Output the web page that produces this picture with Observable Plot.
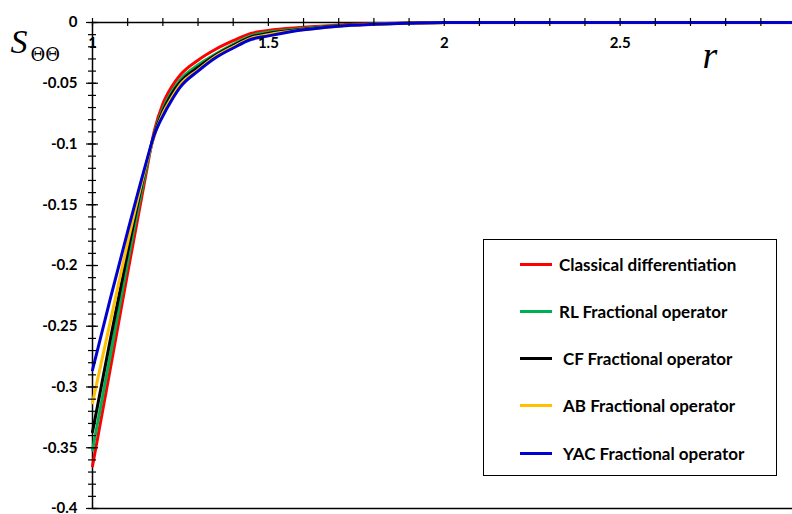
<!DOCTYPE html>
<html>
<head>
<meta charset="utf-8">
<script src="https://cdn.jsdelivr.net/npm/d3@7"></script>
<script src="https://cdn.jsdelivr.net/npm/@observablehq/plot@0.6"></script>
<style>
  html, body { margin: 0; padding: 0; background: #fff; }
  #wrap { position: relative; width: 792px; height: 514px; }
  #legend { position: absolute; left: 483px; top: 239px; width: 292px; height: 235px;
    border: 1.5px solid #000; background: #fff; font-family: Lato, "Open Sans", sans-serif;
    font-weight: bold; font-size: 17px; color: #000; }
  .item { position: absolute; left: 36px; height: 20px; display: flex; align-items: center; white-space: nowrap; }
  .sw { width: 32px; height: 3px; margin-right: 7px; }
</style>
</head>
<body>
<div id="wrap"></div>
<script>
// ----- data -----
const rVals = [1, 1.05, 1.1, 1.15, 1.175, 1.2, 1.225, 1.25, 1.3, 1.35, 1.4, 1.45, 1.5, 1.6, 1.7, 1.8, 1.9, 2, 2.5, 2.99];
const classical = [-0.365, -0.286, -0.206, -0.128, -0.090, -0.067, -0.053, -0.043, -0.031, -0.022, -0.015, -0.009, -0.0065, -0.004, -0.002, -0.001, -0.0004, 0, 0, 0];
const rlFrac    = [-0.352, -0.275, -0.197, -0.124, -0.092, -0.071, -0.057, -0.047, -0.035, -0.026, -0.018, -0.011, -0.008, -0.005, -0.0025, -0.0012, -0.0005, 0, 0, 0];
const cfFrac    = [-0.337, -0.262, -0.189, -0.121, -0.093, -0.073, -0.059, -0.049, -0.037, -0.027, -0.019, -0.012, -0.009, -0.0055, -0.0028, -0.0013, -0.0005, 0, 0, 0];
const abFrac    = [-0.313, -0.247, -0.181, -0.120, -0.094, -0.075, -0.062, -0.051, -0.039, -0.028, -0.020, -0.013, -0.010, -0.006, -0.003, -0.0014, -0.0006, -0.0003, -0.0003, -0.0003];
const yacFrac   = [-0.286, -0.228, -0.172, -0.118, -0.093, -0.077, -0.064, -0.053, -0.040, -0.029, -0.021, -0.014, -0.011, -0.006, -0.003, -0.0015, -0.0006, 0, 0, 0];

const seriesNames = ["Classical differentiation", "RL Fractional operator", "CF Fractional operator", "AB Fractional operator", "YAC Fractional operator"];
const seriesColors = ["#ff0000", "#00b050", "#000000", "#ffc000", "#0000d0"];
const seriesValues = [classical, rlFrac, cfFrac, abFrac, yacFrac];

const xDomain = [1, 2.99];
const yDomain = [-0.4, 0];
const xTicks = d3.range(10, 30).map(v => v / 10);          // every 0.1
const xLabels = [1, 1.5, 2, 2.5];
const yMajor = d3.range(0, 9).map(i => -i * 0.05);
const yMinor = d3.range(0, 41).map(i => -i / 100);

const rows = [];
seriesNames.forEach((name, i) => {
  rVals.forEach((r, j) => rows.push({series: name, r, s: seriesValues[i][j]}));
});

const fmt = d => String(+d.toFixed(2));

const chart = Plot.plot({
  width: 792,
  height: 514,
  marginLeft: 92,
  marginTop: 22,
  marginBottom: 6,
  marginRight: 0,
  style: {fontFamily: "Lato, 'Open Sans', sans-serif", fontWeight: "bold", fontSize: "15px", color: "#000", background: "#fff"},
  x: {domain: xDomain, axis: null},
  y: {domain: yDomain, axis: null},
  color: {domain: seriesNames, range: seriesColors},
  marks: [
    Plot.ruleY([yDomain[1]], {stroke: "#000", strokeWidth: 1.5}),
    Plot.ruleY([yDomain[0]], {stroke: "#000", strokeWidth: 1.5}),
    Plot.ruleX([xDomain[0]], {stroke: "#000", strokeWidth: 1.5}),
    Plot.line(rows, {x: "r", y: "s", z: "series", stroke: "series", strokeWidth: 3, curve: "monotone-x"}),
    Plot.ruleX(xTicks, {x: d => d, y1: () => yDomain[1], y2: () => yDomain[1], insetTop: -4, insetBottom: -4, stroke: "#000", strokeWidth: 1.2}),
    Plot.ruleY(yMinor, {y: d => d, x1: () => xDomain[0], x2: () => xDomain[0], insetLeft: -4, insetRight: -4, stroke: "#000", strokeWidth: 1.2}),
    Plot.ruleY(yMajor, {y: d => d, x1: () => xDomain[0], x2: () => xDomain[0], insetLeft: -6, insetRight: -6, stroke: "#000", strokeWidth: 1.2}),
    Plot.axisY(yMajor, {tickSize: 0, tickPadding: 15, tickFormat: fmt, label: null, fontSize: 15, fontWeight: "bold"}),
    Plot.text(xLabels, {x: d => d, frameAnchor: "top", dy: 21, text: fmt, fontSize: 15, fontWeight: "bold", lineAnchor: "middle"}),
    Plot.text(["S"], {frameAnchor: "top-left", dx: -82, dy: 20, textAnchor: "start", text: d => d, fontFamily: "'Liberation Serif', serif", fontStyle: "italic", fontWeight: "normal", fontSize: 34, lineAnchor: "middle"}),
    Plot.text(["ΘΘ"], {frameAnchor: "top-left", dx: -62, dy: 33, textAnchor: "start", text: d => d, fontFamily: "'DejaVu Serif', serif", fontWeight: "normal", fontSize: 18, lineAnchor: "middle"}),
    Plot.text(["r"], {frameAnchor: "top-left", dx: 610, dy: 33, text: d => d, fontFamily: "'Liberation Serif', serif", fontStyle: "italic", fontWeight: "normal", fontSize: 38, lineAnchor: "middle"})
  ]
});

const wrap = document.getElementById("wrap");
wrap.appendChild(chart);

// legend
const legend = document.createElement("div");
legend.id = "legend";
const tops = [14, 61, 108, 155, 203];
const textOffsets = [0, 0, 4, 4, 4];
seriesNames.forEach((name, i) => {
  const item = document.createElement("div");
  item.className = "item";
  item.style.top = tops[i] + "px";
  const sw = document.createElement("span");
  sw.className = "sw";
  sw.style.background = seriesColors[i];
  sw.style.marginRight = (7 + textOffsets[i]) + "px";
  const t = document.createElement("span");
  t.textContent = name;
  item.appendChild(sw);
  item.appendChild(t);
  legend.appendChild(item);
});
wrap.appendChild(legend);
</script>
</body>
</html>
